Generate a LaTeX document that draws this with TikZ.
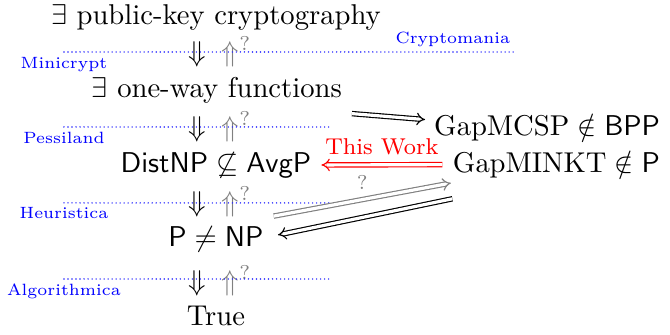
\documentclass[tikz,border=0pt]{standalone}
\usepackage{amssymb}
\usetikzlibrary{arrows.meta}
\tikzset{
  world/.style={blue, inner sep=1.5pt, font=\fontsize{5.7}{7}\selectfont},
  split/.style={blue!85, line width=0.55pt, line cap=round, dash pattern=on 0pt off 1.4pt},
  imp/.style={double, double distance=1.1pt, -{Implies}},
}
\begin{document}
\begin{tikzpicture}
\useasboundingbox (0,0) rectangle (8.22,4.11);
% the worlds
\node (pkc) at (2.65,3.89) {$\exists$ public-key cryptography};
\node (owf) at (2.66,3.0) {$\exists$ one-way functions};
\node (dist) at (2.65,2.086) {$\mathsf{DistNP} \not\subseteq \mathsf{AvgP}$};
\node (pnp) at (2.65,1.178) {$\mathsf{P} \neq \mathsf{NP}$};
\node (triv) at (2.65,0.233) {True};
\foreach \y [count=\i] in {3.472,2.552,1.632,0.663}
  \node (arr\i) at (2.70,\y) {$\Downarrow\;{\color{gray}\Uparrow^{?}}$};
\coordinate (m0) at (0.785,3.472); \coordinate (m1) at (6.319,3.472);
\coordinate (p0) at (0.785,2.552); \coordinate (p1) at (4.049,2.552);
\coordinate (h0) at (0.785,1.620); \coordinate (h1) at (4.049,1.620);
\coordinate (a0) at (0.785,0.687); \coordinate (a1) at (4.049,0.687);
\draw[split] (m0)--(m1) (p0)--(p1) (h0)--(h1) (a0)--(a1);
\node[world, anchor=south east] (crypto) at (m1) {Cryptomania};
\node[world, anchor=north] (mini) at (m0) {Minicrypt};
\node[world, anchor=north] (pess) at (p0) {Pessiland};
\node[world, anchor=north] (heur) at (h0) {Heuristica};
\node[world, anchor=north] (algo) at (a0) {Algorithmica};
% meta-complexity
\node[anchor=east, inner sep=1pt] (mcsp) at (8.14,2.54) {$\mathrm{GapMCSP} \notin \mathsf{BPP}$};
\node[anchor=east, inner sep=1pt] (minkt) at (8.14,2.09) {$\mathrm{GapMINKT} \notin \mathsf{P}$};
\draw[imp] (owf.south east)--([xshift=-2pt,yshift=-3pt]mcsp.north west);
\draw[imp, red] ([xshift=-2.5pt]minkt.west)--(dist.east) node[midway, above, font=\footnotesize]{This Work};
\draw[imp, gray] (pnp.north east)--([xshift=0.5pt,yshift=-0.5pt]minkt.south west)
  node[midway, above, font=\scriptsize]{?};
\draw[imp] ([xshift=1pt,yshift=-6pt]minkt.south west)--([xshift=1.5pt,yshift=1.4pt]pnp.east);
\end{tikzpicture}
\end{document}
